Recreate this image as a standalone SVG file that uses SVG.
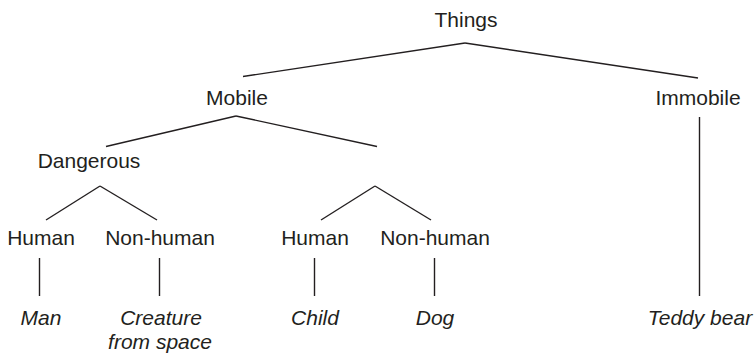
<svg xmlns="http://www.w3.org/2000/svg" width="754" height="354" viewBox="0 0 754 354">
<style>
text{font-family:"Liberation Sans",Arial,sans-serif;font-size:21px;fill:#231f20;text-anchor:middle}
.it{font-style:italic}
#connectors line{stroke:#231f20;stroke-width:1.4;fill:none}
</style>
<rect width="754" height="354" fill="#fff"/>
<g id="connectors">
<line x1="465" y1="43" x2="243" y2="76.5"/>
<line x1="465" y1="43" x2="698" y2="78"/>
<line x1="236" y1="116" x2="106" y2="146.5"/>
<line x1="236" y1="116" x2="377" y2="146.5"/>
<line x1="699.5" y1="117" x2="699.5" y2="296"/>
<line x1="100" y1="186" x2="46" y2="220"/>
<line x1="100" y1="186" x2="157" y2="220"/>
<line x1="375" y1="186" x2="321" y2="220"/>
<line x1="375" y1="186" x2="431" y2="220"/>
<line x1="39.5" y1="258" x2="39.5" y2="296"/>
<line x1="159.5" y1="258" x2="159.5" y2="296"/>
<line x1="314.5" y1="258" x2="314.5" y2="296"/>
<line x1="434.5" y1="258" x2="434.5" y2="296"/>
</g>
<g id="things"><text x="466" y="27">Things</text></g>
<g id="mobile"><text x="237" y="105">Mobile</text></g>
<g id="immobile"><text x="698" y="105">Immobile</text></g>
<g id="dangerous"><text x="89" y="168">Dangerous</text></g>
<g id="human1"><text x="41" y="245">Human</text></g>
<g id="nonhuman1"><text x="160" y="245">Non-human</text></g>
<g id="human2"><text x="315" y="245">Human</text></g>
<g id="nonhuman2"><text x="435" y="245">Non-human</text></g>
<g id="man"><text class="it" x="41" y="325">Man</text></g>
<g id="creature"><text class="it" x="161" y="325">Creature</text><text class="it" x="160" y="349">from space</text></g>
<g id="child"><text class="it" x="315" y="325">Child</text></g>
<g id="dog"><text class="it" x="435" y="325">Dog</text></g>
<g id="teddy"><text class="it" x="700" y="325">Teddy bear</text></g>
</svg>
